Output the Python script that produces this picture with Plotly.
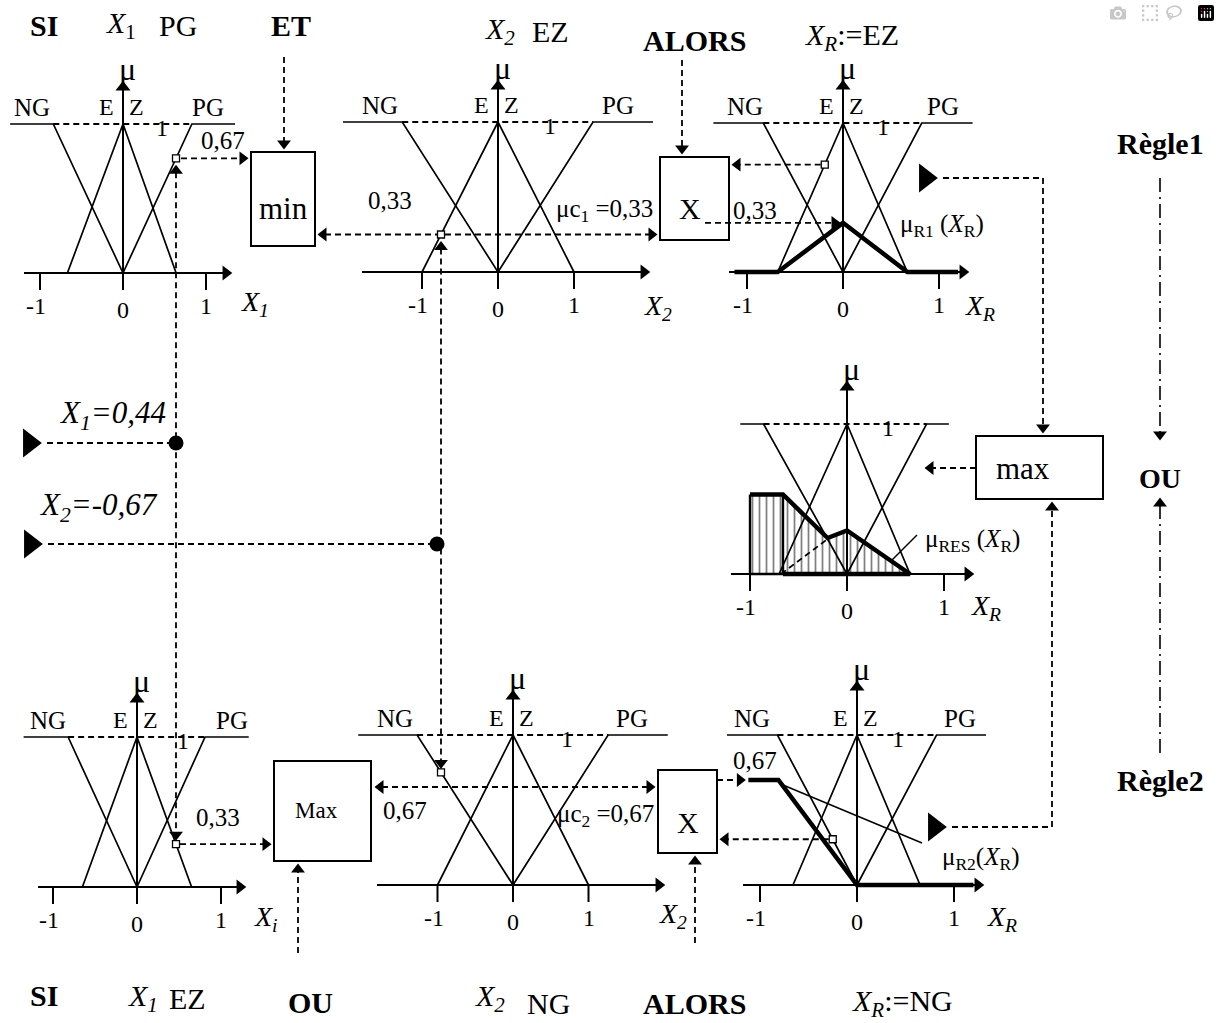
import numpy as np
import plotly.graph_objects as go

W, H = 1220, 1023
FONT = "Liberation Serif, Times New Roman, serif"

# ---------------- data ----------------
X1_INPUT = 0.44
X2_INPUT = -0.67
MU_C1 = 0.33
MU_C2 = 0.67

NG_MU = [1, 1, 0]
EZ_MU = [0, 1, 0]
PG_MU = [0, 1, 1]

A_NG = [-1.36, -0.84, 0.0]; A_EZ = [-0.67, 0.0, 0.64]; A_PG = [0.0, 0.83, 1.35]
B_NG = [-2.04, -1.26, 0.0]; B_EZ = [-1.0, 0.0, 1.0];   B_PG = [0.0, 1.25, 2.04]
C_NG = [-1.35, -0.83, 0.0]; C_EZ = [-0.68, 0.0, 0.67]; C_PG = [0.0, 0.82, 1.35]
D_NG = [-1.10, -0.86, 0.0]; D_EZ = [-0.70, 0.0, 0.65]; D_PG = [0.0, 0.82, 1.05]
E_NG = [-1.35, -0.82, 0.0]; E_EZ = [-0.65, 0.0, 0.65]; E_PG = [0.0, 0.81, 1.33]
F_NG = [-2.05, -1.27, 0.0]; F_EZ = [-1.0, 0.0, 1.0];   F_PG = [0.0, 1.26, 2.05]
G_NG = [-1.34, -0.82, 0.0]; G_EZ = [-0.66, 0.0, 0.65]; G_PG = [0.0, 0.82, 1.33]

R1_X = [-1.13, -0.68, 0.0, 0.67, 1.20]
R1_MU = [0, 0, 0.33, 0, 0]
R2_X = [-1.12, -0.81, 0.0, 1.20]
R2_MU = [0.70, 0.70, 0, 0]
RES_X = [-1.0, -1.0, -0.66, -0.20, 0.0, 0.65]
RES_MU = [0, 0.53, 0.53, 0.24, 0.29, 0]
RES_DOMINATED_X = [-0.68, -0.20]

C_MARK_X = -0.19
G_MARK_X = -0.25

TICKS = [-1, 0, 1]
TICK_LABELS = ["-1", "0", "1"]
CLASS_LABELS = ["NG", "E", "Z", "PG"]

# ---------------- panel geometry (layout) ----------------
panels = {
    "A": dict(x0=123, y0=273, sx=83, sy=149, axl=24, axr=235, vtop=78,
              NG=A_NG, EZ=A_EZ, PG=A_PG, ng_dx=-91, pg_dx=85, one_dx=39,
              var="<i>X<sub>1</sub></i>", var_pos=(255, 303), labels=True),
    "B": dict(x0=498, y0=272, sx=76, sy=150, axl=362, axr=653, vtop=77,
              NG=B_NG, EZ=B_EZ, PG=B_PG, ng_dx=-118, pg_dx=120, one_dx=52,
              var="<i>X<sub>2</sub></i>", var_pos=(658, 307), labels=True),
    "C": dict(x0=843, y0=272, sx=96, sy=149, axl=729, axr=972, vtop=77,
              NG=C_NG, EZ=C_EZ, PG=C_PG, ng_dx=-98, pg_dx=100, one_dx=40,
              var="<i>X<sub>R</sub></i>", var_pos=(980, 307), labels=True),
    "D": dict(x0=847, y0=574, sx=97, sy=150, axl=731, axr=977, vtop=378,
              NG=D_NG, EZ=D_EZ, PG=D_PG, ng_dx=0, pg_dx=0, one_dx=41,
              var="<i>X<sub>R</sub></i>", var_pos=(986, 607), labels=False),
    "E": dict(x0=137, y0=887, sx=84, sy=150, axl=38, axr=249, vtop=690,
              NG=E_NG, EZ=E_EZ, PG=E_PG, ng_dx=-89, pg_dx=95, one_dx=46,
              var="<i>X<sub>i</sub></i>", var_pos=(266, 918), labels=True),
    "F": dict(x0=513, y0=885, sx=75.5, sy=150, axl=377, axr=668, vtop=687,
              NG=F_NG, EZ=F_EZ, PG=F_PG, ng_dx=-118, pg_dx=119, one_dx=54,
              var="<i>X<sub>2</sub></i>", var_pos=(673, 915), labels=True),
    "G": dict(x0=857, y0=885, sx=97, sy=150, axl=743, axr=987, vtop=678,
              NG=G_NG, EZ=G_EZ, PG=G_PG, ng_dx=-105, pg_dx=103, one_dx=41,
              var="<i>X<sub>R</sub></i>", var_pos=(1002, 918), labels=True),
}


def P(p, X):
    return p["x0"] + np.asarray(X, float) * p["sx"]


def Q(p, mu):
    return p["y0"] - np.asarray(mu, float) * p["sy"]


styles = {
    "thin": dict(width=1.7, dash="solid"),
    "axis": dict(width=2.0, dash="solid"),
    "dash": dict(width=1.8, dash="6px,4px"),
    "thick": dict(width=4.5, dash="solid"),
    "rect": dict(width=2.4, dash="solid"),
    "dashdot": dict(width=1.6, dash="14px,5px,2px,5px"),
    "pointer": dict(width=1.5, dash="solid"),
}
segs = {k: ([], []) for k in styles}


def add(style, xs, ys):
    segs[style][0].extend([float(v) for v in xs] + [None])
    segs[style][1].extend([float(v) for v in ys] + [None])


heads = []  # x, y, symbol, size


def head(xt, yt, d, size=12):
    off = 0.707 * size
    if d == "r":
        heads.append((xt - off, yt, "triangle-right", size))
    elif d == "l":
        heads.append((xt + off, yt, "triangle-left", size))
    elif d == "u":
        heads.append((xt, yt + off, "triangle-up", size))
    else:
        heads.append((xt, yt - off, "triangle-down", size))


annots = []


def txt(x, y, text, size=22, xanchor="center"):
    annots.append(dict(x=x, y=y, text=text, showarrow=False, xref="x", yref="y",
                       xanchor=xanchor, yanchor="middle",
                       font=dict(family=FONT, size=size, color="black")))


# ---------------- panels ----------------
for name, p in panels.items():
    y0 = p["y0"]
    add("axis", [p["axl"], p["axr"] - 6], [y0, y0])
    head(p["axr"], y0, "r", 13)
    add("axis", [p["x0"], p["x0"]], [y0 + 17, p["vtop"] + 6])
    head(p["x0"], p["vtop"], "u", 13)
    for t in TICKS:
        if t != 0:
            add("axis", [P(p, t), P(p, t)], [y0, y0 + 17])
    add("thin", P(p, p["NG"]), Q(p, NG_MU))
    add("thin", P(p, p["EZ"]), Q(p, EZ_MU))
    add("thin", P(p, p["PG"]), Q(p, PG_MU))
    add("dash", [P(p, p["NG"][1]), P(p, p["PG"][1])], [Q(p, 1), Q(p, 1)])
    txt(p["x0"] + p["one_dx"], Q(p, 1) + 4, "1", 24)
    txt(p["x0"] + 4, p["vtop"] - 9, "μ", 32)
    for t, lab in zip(TICKS, TICK_LABELS):
        dy = 37 if t == 0 else 33
        dx = -4 if t == -1 else 0
        txt(P(p, t) + dx, y0 + dy, lab, 24)
    txt(p["var_pos"][0], p["var_pos"][1], p["var"], 28)
    if p["labels"]:
        ly = Q(p, 1) - 17
        txt(p["x0"] + p["ng_dx"], ly, CLASS_LABELS[0], 25)
        txt(p["x0"] - 17, ly, CLASS_LABELS[1], 24)
        txt(p["x0"] + 13, ly, CLASS_LABELS[2], 24)
        txt(p["x0"] + p["pg_dx"], ly, CLASS_LABELS[3], 25)

A, B, C, D, E, F, G = (panels[k] for k in "ABCDEFG")

# ---------------- inference results ----------------
add("thick", P(C, R1_X), Q(C, R1_MU))
add("thick", P(G, R2_X), Q(G, R2_MU))

res_trace = go.Scatter(
    x=list(P(D, RES_X)) + [float(P(D, RES_X[0]))],
    y=list(Q(D, RES_MU)) + [float(Q(D, RES_MU[0]))],
    mode="lines", fill="toself", fillcolor="white",
    fillpattern=dict(shape="|", fgcolor="black", bgcolor="white", size=7, solidity=0.25),
    line=dict(width=0), hoverinfo="skip")
add("rect", P(D, [RES_X[0], RES_X[1]]), Q(D, [RES_MU[0], RES_MU[1]]))
add("rect", P(D, [RES_X[2], RES_X[2]]), Q(D, [0, RES_MU[2]]))
add("rect", P(D, [RES_X[0], RES_X[2]]), Q(D, [0, 0]))
add("thick", P(D, RES_X[1:] + [RES_X[2]]), Q(D, RES_MU[1:] + [0]))
dom_mu = np.interp(RES_DOMINATED_X, R1_X, R1_MU)
add("dash", P(D, RES_DOMINATED_X), Q(D, dom_mu))

# ---------------- connectors ----------------
XL1, XL2 = 176, 441
mA = (XL1, float(Q(A, np.interp((XL1 - A["x0"]) / A["sx"], A_PG, PG_MU))))
mE = (XL1, float(Q(E, np.interp((XL1 - E["x0"]) / E["sx"], E_EZ, EZ_MU))))
mB = (XL2, float(Q(B, np.interp((XL2 - B["x0"]) / B["sx"], B_EZ, EZ_MU))))
mF = (XL2, float(Q(F, np.interp((XL2 - F["x0"]) / F["sx"], F_NG, NG_MU))))
mC = (float(P(C, C_MARK_X)), float(Q(C, np.interp(C_MARK_X, C_EZ, EZ_MU))))
mG = (float(P(G, G_MARK_X)), float(Q(G, np.interp(G_MARK_X, G_NG, NG_MU))))

boxes = [(251, 152, 315, 246), (660, 157, 729, 240), (976, 436, 1103, 499),
         (274, 761, 371, 861), (658, 770, 717, 853)]

add("dash", [284, 284], [57, 142]); head(284, 152, "d")
add("dash", [682, 682], [60, 147]); head(682, 157, "d")
add("dash", [mA[0] + 5, 241], [mA[1], mA[1]]); head(251, mA[1], "r")
add("dash", [XL1, XL1], [mA[1] + 14, mE[1] - 10]); head(XL1, mA[1] + 4, "u"); head(XL1, mE[1] - 1, "d")
add("dash", [325, 650], [mB[1], mB[1]]); head(315, mB[1], "l"); head(660, mB[1], "r")
add("dash", [XL2, XL2], [mB[1] + 14, mF[1] - 10]); head(XL2, mB[1] + 4, "u"); head(XL2, mF[1] - 1, "d")
r1_top = float(Q(C, max(R1_MU)))
add("dash", [705, 833], [r1_top, r1_top]); head(float(P(C, 0)), r1_top, "r")
add("dash", [mC[0] - 4, 739], [mC[1], mC[1]]); head(729, mC[1], "l")
add("dash", [943, 1043, 1043], [178, 178, 426]); head(943, 178, "r", 25); head(1043, 436, "d")
add("dash", [976, 932], [468, 468]); head(922, 468, "l")
add("dash", [952, 1052, 1052], [827, 827, 509]); head(952, 827, "r", 25); head(1052, 499, "u")
add("dash", [47, XL1], [443, 443]); head(47, 443, "r", 25)
add("dash", [48, 437], [544, 544]); head(48, 544, "r", 25)
add("dash", [mE[0] + 4, 264], [mE[1], mE[1]]); head(274, mE[1], "r")
add("dash", [298, 298], [953, 871]); head(298, 861, "u")
add("dash", [382, 648], [787, 787]); head(372, 787, "l"); head(658, 787, "r")
r2_top = float(Q(G, R2_MU[0]))
add("dash", [717, 738], [r2_top, r2_top]); head(float(P(G, R2_X[0])), r2_top, "r")
add("dash", [mG[0] - 4, 727], [mG[1], mG[1]]); head(717, mG[1], "l")
add("dash", [695, 695], [943, 863]); head(695, 853, "u")
add("dashdot", [1160, 1160], [178, 433]); head(1160, 443, "d")
add("dashdot", [1160, 1160], [505, 755]); head(1160, 495, "u")
add("pointer", [783, 922], [785, 843])
add("pointer", [917, 892], [535, 560])

# ---------------- texts ----------------
HS = 30
txt(44, 25, "<b>SI</b>", HS)
txt(121, 25, "<i>X</i><sub>1</sub>", HS)
txt(178, 25, "PG", HS)
txt(291, 25, "<b>ET</b>", HS)
txt(500, 31, "<i>X<sub>2</sub></i>", HS)
txt(550, 31, "EZ", HS)
txt(694, 40, "<b>ALORS</b>", HS)
txt(852, 37, "<i>X<sub>R</sub></i>:=EZ", HS)

txt(44, 995, "<b>SI</b>", HS)
txt(143, 998, "<i>X<sub>1</sub></i>", HS)
txt(187, 998, "EZ", HS)
txt(310, 1002, "<b>OU</b>", HS)
txt(490, 998, "<i>X<sub>2</sub></i>", HS)
txt(548, 1003, "NG", HS)
txt(694, 1003, "<b>ALORS</b>", HS)
txt(902, 1003, "<i>X<sub>R</sub></i>:=NG", HS)

txt(1160, 143, "<b>Règle1</b>", 30)
txt(1160, 478, "<b>OU</b>", 28)
txt(1160, 780, "<b>Règle2</b>", 30)

txt(112, 415, "<i>X<sub>1</sub>=0,44</i>", 31)
txt(98, 507, "<i>X<sub>2</sub>=-0,67</i>", 31)

txt(283, 208, "min", 31)
txt(690, 208, "X", 30)
txt(1023, 468, "max", 31)
txt(316, 810, "Max", 23)
txt(688, 822, "X", 30)

NS = 25
txt(223, 140, "0,67", NS)
txt(390, 200, "0,33", NS)
txt(604, 210, "μc<sub>1</sub> =0,33", NS)
txt(755, 210, "0,33", NS)
txt(942, 225, "μ<sub>R1</sub> (<i>X</i><sub>R</sub>)", NS)
txt(972, 540, "μ<sub>RES</sub> (<i>X</i><sub>R</sub>)", NS)
txt(218, 817, "0,33", NS)
txt(405, 810, "0,67", NS)
txt(605, 815, "μc<sub>2</sub> =0,67", NS)
txt(755, 760, "0,67", NS)
txt(980, 858, "μ<sub>R2</sub>(<i>X</i><sub>R</sub>)", NS)

# ---------------- figure ----------------
fig = go.Figure()
fig.add_trace(res_trace)
for k in ["thin", "axis", "dash", "rect", "thick", "dashdot", "pointer"]:
    xs, ys = segs[k]
    fig.add_trace(go.Scatter(x=xs, y=ys, mode="lines", hoverinfo="skip",
                             line=dict(color="black", width=styles[k]["width"], dash=styles[k]["dash"])))

hx, hy, hs, hz = zip(*heads)
fig.add_trace(go.Scatter(x=hx, y=hy, mode="markers", hoverinfo="skip",
                         marker=dict(symbol=list(hs), size=list(hz), color="black", opacity=1,
                                     line=dict(width=0))))
fig.add_trace(go.Scatter(x=[XL1, 437], y=[443, 544], mode="markers", hoverinfo="skip",
                         marker=dict(symbol="circle", size=15, color="black", opacity=1)))
sq = [mA, mB, mC, mE, mF, mG]
fig.add_trace(go.Scatter(x=[s[0] for s in sq], y=[s[1] for s in sq], mode="markers", hoverinfo="skip",
                         marker=dict(symbol="square", size=7, color="white", opacity=1,
                                     line=dict(color="black", width=1.3))))

shapes = [dict(type="rect", xref="x", yref="y", x0=b[0], y0=b[1], x1=b[2], y1=b[3],
               line=dict(color="black", width=2), fillcolor="rgba(0,0,0,0)", layer="above") for b in boxes]

fig.update_layout(
    width=W, height=H, margin=dict(l=0, r=0, t=0, b=0),
    paper_bgcolor="white", plot_bgcolor="white", showlegend=False,
    xaxis=dict(range=[0, W], visible=False, fixedrange=True),
    yaxis=dict(range=[H, 0], visible=False, fixedrange=True),
    annotations=annots, shapes=shapes,
)
fig.write_html("out.html", post_script="document.body.style.margin='0';")
